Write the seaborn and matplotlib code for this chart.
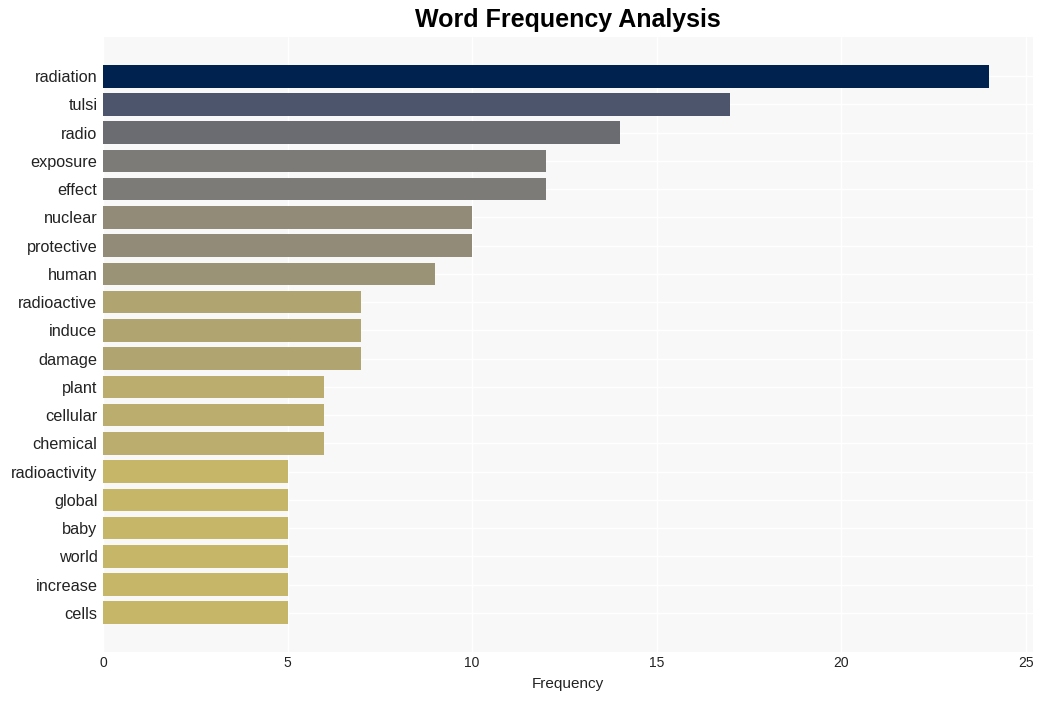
import matplotlib
matplotlib.use("Agg")
import matplotlib.pyplot as plt
import seaborn as sns
import numpy as np
import pandas as pd
from matplotlib import colors as mcolors

words = ["radiation", "tulsi", "radio", "exposure", "effect", "nuclear", "protective",
         "human", "radioactive", "induce", "damage", "plant", "cellular", "chemical",
         "radioactivity", "global", "baby", "world", "increase", "cells"]
freqs = [24, 17, 14, 12, 12, 10, 10, 9, 7, 7, 7, 6, 6, 6, 5, 5, 5, 5, 5, 5]

df = pd.DataFrame({"word": words, "freq": freqs})

sns.set_theme(style="whitegrid")
plt.rcParams['font.family'] = ['Liberation Sans', 'DejaVu Sans']

norm = mcolors.Normalize(vmin=0, vmax=max(freqs))
cmap = matplotlib.colormaps["cividis_r"]
pal = [cmap(norm(v)) for v in freqs]

fig = plt.figure(figsize=(10.43, 7.01), dpi=100)
ax = fig.add_axes([103/1043, 1 - 652/701, (1033-103)/1043, (652-37)/701])
ax.set_facecolor("#f8f8f8")

sns.barplot(data=df, y="word", x="freq", hue="word", palette=pal, legend=False,
            orient="h", width=0.8, ax=ax, saturation=1, linewidth=0)

ax.set_xlim(0, max(freqs) * 1.05)
ax.set_ylim(19.4 + 0.99, -0.4 - 0.99)
ax.grid(True, color="white", linewidth=1)
ax.set_axisbelow(True)
for s in ax.spines.values():
    s.set_visible(False)
ax.tick_params(axis="both", length=0)
ax.tick_params(axis="y", labelsize=11.7, pad=4, labelcolor="#222222")
ax.tick_params(axis="x", labelsize=10, pad=3, labelcolor="#222222")
ax.set_xticks([0, 5, 10, 15, 20, 25])
ax.set_xlabel("Frequency", fontsize=11, color="#222222", labelpad=5)
ax.set_ylabel("")
ax.set_title("Word Frequency Analysis", fontsize=18, fontweight="bold", color="black", pad=7)

fig.savefig("out.png", dpi=100)
